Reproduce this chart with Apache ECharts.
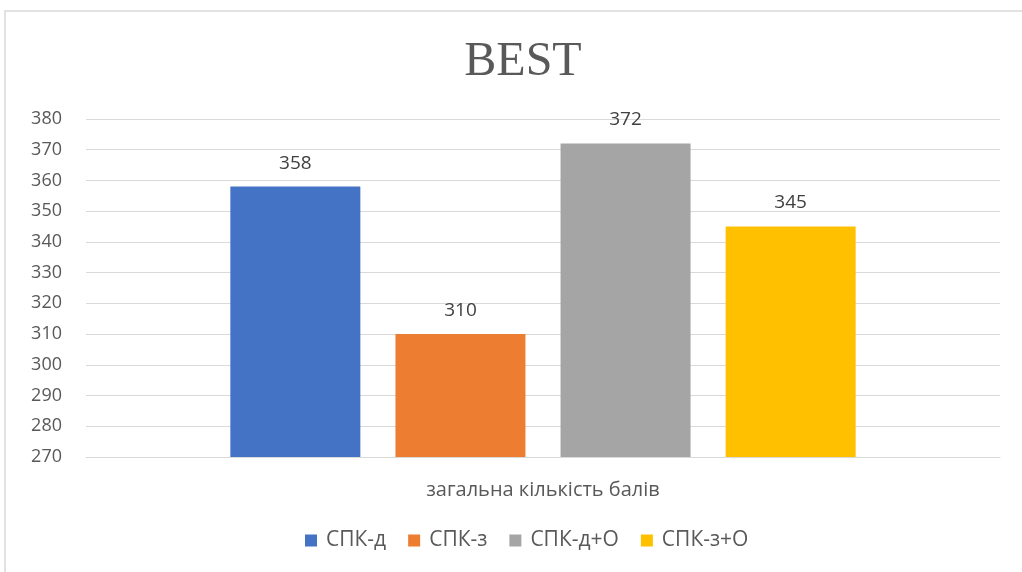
<!DOCTYPE html>
<html><head><meta charset="utf-8">
<script src="https://cdn.jsdelivr.net/npm/echarts@6/dist/echarts.min.js"></script>
<style>html,body{margin:0;padding:0;background:#fff}#c{width:1022px;height:572px}</style>
</head><body><div id="c"></div>
<script>
const categories = ['загальна кількість балів'];
const seriesNames = ['СПК-д', 'СПК-з', 'СПК-д+О', 'СПК-з+О'];
const seriesValues = [[358], [310], [372], [345]];
const colors = ['#4472C4', '#ED7D31', '#A5A5A5', '#FFC000'];
const yMin = 270, yMax = 380, yStep = 10;

const chart = echarts.init(document.getElementById('c'));
const font = '"Open Sans", "Noto Sans", sans-serif';
chart.setOption({
  animation: false,
  graphic: [{type: 'rect', shape: {x: 5, y: 11, width: 1030, height: 580},
    style: {fill: 'none', stroke: '#d9d9d9', lineWidth: 1.5}, silent: true}],
  title: {text: 'BEST', left: 518, textAlign: 'center', top: 33,
    textStyle: {fontFamily: '"Liberation Serif", serif', fontSize: 48, fontWeight: 'normal', color: '#595959'}},
  grid: {left: 86, right: 22, top: 119, bottom: 115, containLabel: false},
  legend: {bottom: 16, left: 300, itemWidth: 12, itemHeight: 12, itemGap: 22, icon: 'rect',
    textStyle: {fontFamily: font, fontSize: 21, color: '#595959', padding: [0, 0, 0, 4]}},
  xAxis: {type: 'category', data: categories,
    axisLine: {lineStyle: {color: '#d9d9d9'}}, axisTick: {show: false},
    axisLabel: {fontFamily: font, fontSize: 20, color: '#595959', margin: 23}},
  yAxis: {type: 'value', min: yMin, max: yMax, interval: yStep,
    axisLine: {show: false}, axisTick: {show: false},
    axisLabel: {fontFamily: font, fontSize: 18, color: '#595959', margin: 24},
    splitLine: {lineStyle: {color: '#d9d9d9', width: 1}}},
  series: seriesNames.map((n, i) => ({
    name: n, type: 'bar', data: seriesValues[i], barWidth: 130, barGap: '27%',
    itemStyle: {color: colors[i]},
    label: {show: true, position: 'top', distance: 14, fontFamily: font, fontSize: 19, color: '#404040'}
  }))
});
</script></body></html>
